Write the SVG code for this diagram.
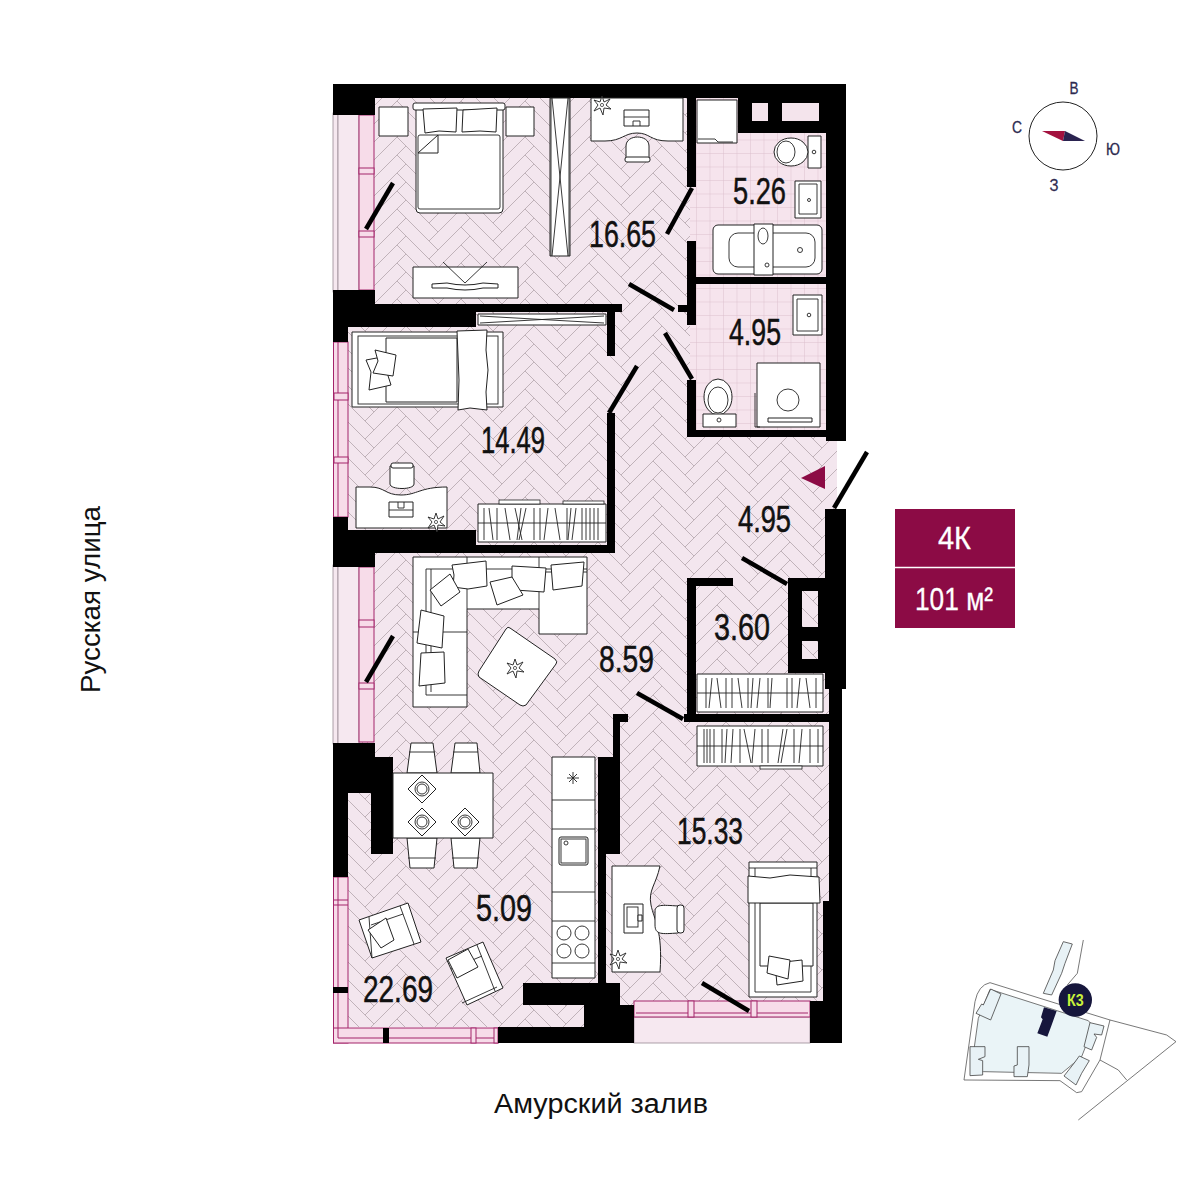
<svg xmlns="http://www.w3.org/2000/svg" xmlns:xlink="http://www.w3.org/1999/xlink" width="1200" height="1200" viewBox="0 0 1200 1200">
<style>
text{font-family:"Liberation Sans",Arial,sans-serif;fill:#111}
.lb{font-size:37px;stroke:#111;stroke-width:.5}
.f{fill:#fff;stroke:#222;stroke-width:1;stroke-linejoin:round}
.t{fill:none;stroke:#222;stroke-width:.9}
.wl{fill:#000}
.d{stroke:#000;stroke-width:4.5;fill:none}
.w{fill:#f7dce9;stroke:#a3246b;stroke-width:1}
.b{fill:#f6e8f0;stroke:#9a8a94;stroke-width:.8}
.m{fill:#f7dce9;stroke:#a3246b;stroke-width:1}
.site{fill:none;stroke:#555;stroke-width:2.4}
.bld{fill:#e8f2f6;stroke:#444;stroke-width:2.4}
.cp{font-size:17px;fill:#2d2a50;stroke:#2d2a50;stroke-width:.3}
.bt{fill:#fff;stroke:#fff;stroke-width:.3}
</style>
<defs>
<path id="hbp" d="M0 0L32 32L23 41L-9 9ZM55 9L64 18L32 50L23 41Z" fill="none" stroke="#bfb1b9" stroke-width=".9"/>
<g id="hbr"><use href="#hbp" y="-54"/><use href="#hbp" y="-36"/><use href="#hbp" y="-18"/><use href="#hbp"/><use href="#hbp" y="18"/></g>
<pattern id="herr" x="22" y="2" width="64" height="18" patternUnits="userSpaceOnUse">
<rect width="64" height="18" fill="#f3e6ee"/>
<use href="#hbr" x="-64"/><use href="#hbr"/><use href="#hbr" x="64"/>
</pattern>
<pattern id="tile" x="696" y="99" width="13.5" height="13.5" patternUnits="userSpaceOnUse">
<rect width="13.5" height="13.5" fill="#f6e4ed"/>
<path d="M0 0H13.5M0 0V13.5" stroke="#dcbccc" stroke-width=".9" fill="none"/>
</pattern>
<g id="plant"><path d="M0-9L2-3L8-6L4 0L9 4L2 3L1 10L-2 3L-8 6L-4 0L-8-5L-2-3Z" fill="#fff" stroke="#222" stroke-width=".9"/><circle r="1.6" fill="none" stroke="#222" stroke-width=".7"/></g>
</defs>

<g id="floor">
<path d="M348 115L375 98H826V441H837V509H829V1001H634V1027H348Z" fill="url(#herr)"/>
<path d="M696 98H826V277H690V241H696ZM696 284H826V430H696V380H690V325H696Z" fill="url(#tile)"/>
<path d="M690 187H696V241H690Z" fill="url(#tile)"/>
</g>

<g id="windows">
<rect class="b" x="333" y="113" width="5" height="179"/><rect class="b" x="338" y="113" width="21" height="179"/>
<rect class="w" x="359" y="115" width="15" height="175"/>
<rect class="m" x="359" y="168" width="15" height="6"/><rect class="m" x="359" y="231" width="15" height="6"/>
<rect class="w" x="333.500" y="342" width="14.500" height="175"/><path d="M338 342V517" stroke="#a3246b" fill="none"/>
<rect class="m" x="334" y="393" width="14" height="7"/><rect class="m" x="334" y="457" width="14" height="6"/>
<rect class="b" x="333" y="565" width="5" height="179"/><rect class="b" x="338" y="565" width="21" height="179"/>
<rect class="w" x="359" y="567" width="15" height="175"/>
<rect class="m" x="359" y="620" width="15" height="7"/><rect class="m" x="359" y="683" width="15" height="6"/>
<rect class="w" x="333.500" y="877" width="14.500" height="166"/>
<rect class="w" x="333.500" y="1028" width="164.500" height="15"/>
<path d="M338 877V1038H498M333 900H348M333 905H348" stroke="#a3246b" fill="none"/>
<rect class="m" x="471" y="1028" width="5" height="15"/><rect class="m" x="494" y="1028" width="4" height="15"/>
<rect x="634" y="1017" width="176" height="26" fill="#f6e8f0" stroke="#9a8a94" stroke-width=".8"/>
<rect class="w" x="634" y="1001" width="176" height="16"/><path d="M636 1013H808" stroke="#a3246b" fill="none"/>
<rect class="m" x="688" y="1001" width="6" height="16"/><rect class="m" x="751" y="1001" width="6" height="16"/>
</g>

<g id="walls" class="wl">
<path d="M333 84H846V441H826V133H738V98H375V115H333Z"/>
<rect x="687" y="98" width="9" height="89"/>
<rect x="687" y="241" width="9" height="84"/>
<rect x="696" y="277" width="130" height="7"/>
<rect x="678" y="305" width="9" height="7"/>
<path d="M687 380H696V430H826V437H687Z"/>
<path d="M333 290H375V304H622V312H615V356H607V312H476V327H348V342H333Z"/>
<path d="M607 413H615V553H375V567H333V517H348V530H476V545H607Z"/>
<path d="M687 578H733V586H696V714H829V722H684V714H687Z"/>
<path d="M825 509H846V689H842V1043H810V1001H823V901H829V689H825V673H788V578H825Z"/>
<path d="M613 714H628V722H620V854H606V983H620V1005H634V1043H498V1027H584V1005H523V983H598V757H613Z"/>
<path d="M333 743H375V757H393V854H371V793H348V877H333Z"/>
<rect x="333" y="987" width="15" height="6"/>
<rect x="383" y="1028" width="6" height="15"/>
</g>
<rect x="752" y="103" width="16" height="18" fill="#f4e4ec"/>
<rect x="782" y="103" width="37" height="18" fill="#f4e4ec"/>
<rect x="802" y="591" width="16" height="36" fill="url(#herr)"/>
<rect x="802" y="641" width="16" height="18" fill="url(#herr)"/>

<g id="bedroom-1">
<rect class="f" x="379" y="107" width="29" height="29"/>
<rect class="f" x="506" y="107" width="28" height="29"/>
<rect class="f" x="416" y="104" width="87" height="109" rx="4"/>
<rect class="f" x="413" y="103" width="92" height="7" rx="2"/>
<path class="f" d="M423 109L457 108L456 132L439 131L425 133Z"/>
<path class="f" d="M463 110L497 108L496 132L480 131L462 132Z"/>
<rect class="t" x="418" y="135" width="82" height="74" rx="2"/>
<path class="f" d="M418 153L438 135V153Z"/>
<rect class="f" x="550" y="98" width="20" height="158"/>
<path class="t" d="M552 98L568 256M568 98L552 256M551 98V256M569 98V256"/>
<path class="f" d="M591 98H683V141H668C650 141 650 133 637 133C624 133 622 141 605 141H591Z"/>
<rect class="f" x="624" y="110" width="25" height="16"/><path class="t" d="M624 117H649M633 126V121H640V126"/>
<path class="f" d="M626 146C626 134 649 134 649 146V160H626Z"/><rect class="f" x="625" y="157" width="25" height="5" rx="2"/>
<use href="#plant" x="602" y="105"/>
<rect class="f" x="413" y="267" width="105" height="31"/>
<path class="t" d="M443 262L465 283L487 262"/>
<path class="f" d="M432 284L447 283Q465 287 483 283L498 284V288H483Q465 292 447 288H432Z"/>
</g>

<g id="bath-1">
<rect class="f" x="697" y="100" width="40" height="43"/>
<path class="t" d="M698 139H715L718 142H733"/>
<rect class="f" x="808" y="136" width="13" height="32"/><circle class="t" cx="814" cy="152" r="1.800"/>
<ellipse class="f" cx="791" cy="152" rx="17" ry="14"/><ellipse class="t" cx="786" cy="152" rx="9" ry="11"/>
<rect class="f" x="795" y="181" width="26" height="37"/><path class="t" d="M799 184H817V214H799Z"/><circle class="t" cx="809" cy="200" r="1.500"/>
<rect class="f" x="713" y="225" width="109" height="49" rx="5"/>
<rect class="t" x="729" y="233" width="86" height="34" rx="9"/>
<rect class="f" x="754" y="224" width="19" height="51"/>
<ellipse class="t" cx="763" cy="236" rx="5" ry="8"/><circle class="t" cx="767" cy="265" r="2"/><circle class="t" cx="800" cy="250" r="2.500"/>
</g>

<g id="bath-2">
<rect class="f" x="793" y="295" width="29" height="40"/><path class="t" d="M797 299H818V331H797Z"/><circle class="t" cx="809" cy="315" r="1.800"/>
<ellipse class="f" cx="718" cy="397" rx="14" ry="18"/><ellipse class="t" cx="718" cy="400" rx="10" ry="13"/>
<rect class="f" x="703" y="414" width="33" height="13"/><circle class="t" cx="719" cy="420" r="2"/>
<rect class="f" x="757" y="363" width="63" height="64"/><path class="t" d="M755 393V427H760"/>
<circle class="t" cx="788" cy="400" r="11"/>
<rect class="f" x="768" y="418" width="44" height="4"/>
</g>

<g id="bedroom-2">
<rect class="f" x="352" y="332" width="151" height="75"/>
<rect class="t" x="358" y="336" width="140" height="68"/>
<rect class="f" x="386" y="338" width="71" height="64"/>
<path class="f" d="M457 331L487 330L486 350L488 370L486 392L487 410L470 408L458 410L459 380Z"/>
<path class="f" d="M366 360L382 357L391 385L369 390L371 372Z"/>
<path class="f" d="M375 350L396 355L393 376L373 373L378 361Z"/>
<rect class="f" x="478" y="314" width="128" height="11"/>
<path class="t" d="M480 316L604 323M480 323L604 316"/>
<path class="f" d="M356 487H370C385 487 385 495 401 495C417 495 420 487 447 487V528H356Z"/>
<path class="f" d="M390 466H414V484C414 490 390 490 390 484Z"/><rect class="f" x="391" y="463" width="22" height="5" rx="2"/>
<rect class="f" x="389" y="502" width="24" height="15"/><path class="t" d="M398 502V508H404V502M389 510H413"/>
<use href="#plant" x="436" y="522"/>
<rect class="f" x="478" y="504" width="128" height="38"/>
<rect x="499" y="500" width="41" height="4" fill="#fff" stroke="#222" stroke-width=".8"/><rect x="563" y="501" width="41" height="3" fill="#fff" stroke="#222" stroke-width=".8"/>
<path class="t" d="M478 523H606M484 508V540M489 508L493 540M497 508V540M505 508L510 540M515 508L522 540M521 508L517 540M526 508L519 540M534 508V540M540 508V540M548 508L544 540M555 508L560 540M567 508V540M571 508L568 540M576 508L572 540M582 508V540M586 508V540M590 508V540M594 508V540M598 508V540"/>
</g>

<g id="living">
<path class="f" d="M413 557H587V634H539V609H467V707H413Z"/>
<path class="t" d="M467 557V609M539 557V609M539 572H587M426 569H587M426 569V695H467M413 632H467M431 569V692"/>
<path class="f" d="M452 565L486 561L487 586L468 589L453 587L454 575Z"/>
<path class="f" d="M512 566L546 568L544 592L515 590L512 578Z"/>
<path class="f" d="M551 565L584 562L582 586L553 590Z"/>
<path class="f" d="M490 582L512 577L523 595L497 605Z"/>
<path class="f" d="M430 590L450 574L460 592L441 606Z"/>
<path class="f" d="M421 610L444 616L442 648L417 643Z"/>
<path class="f" d="M421 653L444 652L445 683L419 686Z"/>
<path class="f" d="M510 628L555 659Q558 662 556 664L526 705Q523 707 520 705L479 677Q477 674 479 671L506 629Q508 626 510 628Z"/>
<use href="#plant" x="515" y="668"/>
</g>

<g id="dining">
<path class="f" d="M407 773L411 743H433L437 773Z"/><path class="t" d="M409 752H435"/>
<path class="f" d="M451 773L455 743H477L480 773Z"/><path class="t" d="M453 752H478"/>
<path class="f" d="M407 838L410 868H434L437 838Z"/><path class="t" d="M408 858H436"/>
<path class="f" d="M451 838L454 868H477L480 838Z"/><path class="t" d="M452 858H479"/>
<rect class="f" x="393" y="773" width="100" height="65"/>
<path class="f" d="M422 775L436 789L422 803L408 789Z"/><circle class="t" cx="422" cy="789" r="7"/><circle class="t" cx="422" cy="789" r="5"/>
<path class="f" d="M422 808L436 822L422 836L408 822Z"/><circle class="t" cx="422" cy="822" r="7"/><circle class="t" cx="422" cy="822" r="5"/>
<path class="f" d="M465 808L479 822L465 836L451 822Z"/><circle class="t" cx="465" cy="822" r="7"/><circle class="t" cx="465" cy="822" r="5"/>
</g>

<g id="kitchen">
<rect class="f" x="552" y="757" width="43" height="221"/>
<path class="t" d="M552 800H595M552 829H595M552 892H595M552 921H595M552 963H595M567 778H579M573 772V784M569 774L577 782M577 774L569 782"/>
<rect class="f" x="559" y="837" width="29" height="28" rx="2"/><rect class="t" x="561" y="839" width="25" height="24"/><circle class="t" cx="566" cy="843" r="2"/>
<circle class="t" cx="564" cy="933" r="7"/><circle class="t" cx="582" cy="933" r="7"/><circle class="t" cx="564" cy="951" r="7"/><circle class="t" cx="582" cy="951" r="7"/>
</g>

<g id="armchairs">
<path class="f" d="M359 920L408 903L421 942L372 958Z"/>
<path class="t" d="M369 917L372 958M400 906L414 944M371 925L403 914"/>
<path class="f" d="M368 930L386 918L394 940L381 948Z"/>
<path class="f" d="M446 958L483 942L503 988L467 1005Z"/>
<path class="t" d="M477 945L495 991M451 969L482 956M462 1003L497 987"/>
<path class="f" d="M448 960L468 949L478 967L457 978Z"/>
</g>

<g id="storage">
<rect class="f" x="697" y="674" width="126" height="38"/>
<path class="t" d="M697 693H823M706 678V708M712 678L709 708M717 678L721 708M726 678V708M732 678V708M738 678L742 708M748 678V708M753 678L751 708M760 678L757 708M768 678V708M772 678L770 708M787 678V708M792 678V708M800 678L797 708M806 678L810 708M816 678V708"/>
</g>

<g id="bedroom-3">
<rect class="f" x="697" y="726" width="126" height="40"/>
<path class="t" d="M697 746H823M704 729V763M707 729V763M710 729V763M714 729V763M722 729V763M727 729L725 763M733 729L731 763M740 729V763M744 729L751 763M755 729L752 763M762 729V763M768 729V763M783 729L778 763M787 729L781 763M794 729V763M802 729L799 763M810 729V763M818 729V763"/>
<rect x="760" y="766" width="42" height="3" fill="#fff" stroke="#222" stroke-width=".8"/>
<path class="f" d="M612 866H660C656 885 648 890 651 905C654 920 663 930 660 972H612Z"/>
<rect class="f" x="624" y="904" width="19" height="29"/><rect class="t" x="627" y="907" width="11" height="20"/><rect class="f" x="638" y="915" width="4" height="6"/>
<path class="f" d="M655 912C655 904 662 905 678 906C683 908 683 932 678 933C662 934 655 935 655 925Z"/>
<rect class="f" x="677" y="905" width="7" height="28" rx="3"/>
<use href="#plant" x="618" y="959"/>
<rect class="f" x="749" y="862" width="68" height="135"/>
<path class="t" d="M749 868H817M755 868V992H811V868"/>
<rect class="f" x="760" y="903" width="53" height="63"/>
<path class="f" d="M748 876L770 878L790 875L819 877L820 903H748Z"/>
<path class="f" d="M775 963L802 960L803 981L777 985Z"/>
<path class="f" d="M769 956L790 960L788 979L767 973Z"/>
</g>

<g id="connectors" class="d">
<path d="M393 183L366 229"/>
<path d="M692 188L667 234"/>
<path d="M629 284L674 310"/>
<path d="M665 333L692 379"/>
<path d="M637 366L609 413"/>
<path d="M867 452L834 508"/>
<path d="M742 558L787 584"/>
<path d="M637 693L683 719"/>
<path d="M393 636L366 682"/>
<path d="M702 983L749 1011"/>
</g>

<path id="entry" d="M825 466V489L801 478Z" fill="#8c0b45"/>

<g id="labels" class="lb">
<text x="589" y="247" textLength="67" lengthAdjust="spacingAndGlyphs">16.65</text>
<text x="733" y="204" textLength="53" lengthAdjust="spacingAndGlyphs">5.26</text>
<text x="729" y="345" textLength="52" lengthAdjust="spacingAndGlyphs">4.95</text>
<text x="481" y="453" textLength="64" lengthAdjust="spacingAndGlyphs">14.49</text>
<text x="738" y="532" textLength="53" lengthAdjust="spacingAndGlyphs">4.95</text>
<text x="714" y="640" textLength="56" lengthAdjust="spacingAndGlyphs">3.60</text>
<text x="599" y="672" textLength="55" lengthAdjust="spacingAndGlyphs">8.59</text>
<text x="677" y="844" textLength="66" lengthAdjust="spacingAndGlyphs">15.33</text>
<text x="476" y="921" textLength="56" lengthAdjust="spacingAndGlyphs">5.09</text>
<text x="363" y="1002" textLength="70" lengthAdjust="spacingAndGlyphs">22.69</text>
</g>

<g id="streets">
<text transform="translate(100 693) rotate(-90)" font-size="27" textLength="187" lengthAdjust="spacingAndGlyphs" fill="#222">Русская улица</text>
<text x="494" y="1113" font-size="27" textLength="214" lengthAdjust="spacingAndGlyphs" fill="#222">Амурский залив</text>
</g>

<g id="badge">
<rect x="895" y="509" width="120" height="119" fill="#8c0b45"/>
<path d="M895 567.500H1015" stroke="#fff" stroke-width="1.500"/>
<text class="bt" x="938" y="549" font-size="32" textLength="33" lengthAdjust="spacingAndGlyphs">4К</text>
<text class="bt" x="915" y="610" font-size="32" textLength="78" lengthAdjust="spacingAndGlyphs">101 м²</text>
</g>

<g id="compass">
<circle cx="1063" cy="136" r="34" fill="none" stroke="#222" stroke-width="1"/>
<path d="M1042 131H1065L1063 141Z" fill="#a3123f"/>
<path d="M1065 131L1085 141H1063Z" fill="#2a2350"/>
<text class="cp" x="1074" y="94" text-anchor="middle" textLength="9" lengthAdjust="spacingAndGlyphs">В</text>
<text class="cp" x="1017" y="133" text-anchor="middle" textLength="10" lengthAdjust="spacingAndGlyphs">С</text>
<text class="cp" x="1113" y="155" text-anchor="middle" textLength="14" lengthAdjust="spacingAndGlyphs">Ю</text>
<text class="cp" x="1054" y="191" text-anchor="middle" textLength="9" lengthAdjust="spacingAndGlyphs">З</text>
</g>

<g id="site" transform="translate(950 930) scale(.3333)">
<path d="M85 265L120 178L415 272L430 290L395 380L335 430L100 425L62 430Z" fill="#eaf4f7" stroke="#555" stroke-width="2.400"/>
<path class="site" d="M42 450L75 215Q85 165 120 158L270 205L480 270L650 315L678 335L385 570M42 450L330 452L380 488L395 485L450 390L480 270M400 30L382 130L352 165M450 390L505 420L530 450"/>
<path class="bld" d="M340 35L367 42L345 100L335 130L305 195L280 190L310 120L315 92Z"/>
<path class="bld" d="M122 177L153 192L122 270L78 250L95 222L100 225Z"/>
<path class="bld" d="M60 350H105V380L85 388L98 392V435L60 437Z"/>
<path class="bld" d="M202 350H237V405L232 440H192V408L202 405Z"/>
<path class="bld" d="M420 278L462 288L455 315L432 312L440 322L425 360L402 350Z"/>
<path class="bld" d="M388 378L418 392L395 430L378 465L342 438L372 400Z"/>
<path d="M282 232L320 243L305 285L292 320L262 310L278 268L273 262Z" fill="#16163c"/>
<circle cx="376" cy="210" r="50" fill="#16163c"/>
<text x="376" y="227" font-size="48" font-weight="bold" text-anchor="middle" style="fill:#c9f23a" textLength="50" lengthAdjust="spacingAndGlyphs">К3</text>
</g>
</svg>
